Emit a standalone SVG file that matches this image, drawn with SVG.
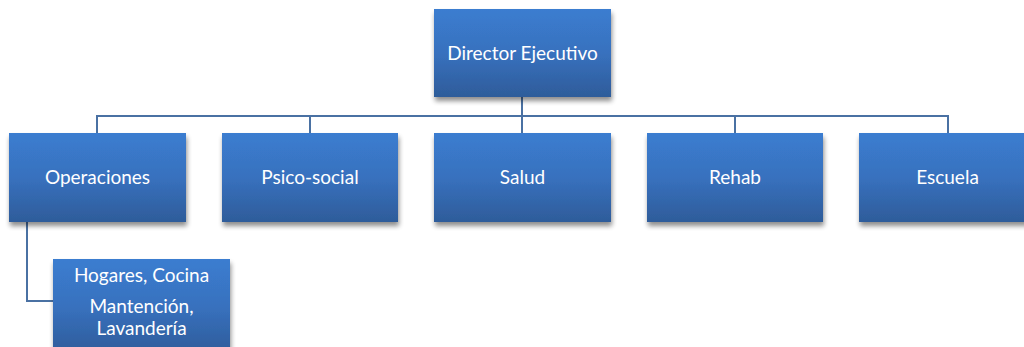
<svg xmlns="http://www.w3.org/2000/svg" width="1024" height="347" viewBox="0 0 1024 347">
<defs>
<linearGradient id="g" x1="0" y1="0" x2="0" y2="1">
<stop offset="0" stop-color="#3b7dd0"/>
<stop offset="0.5" stop-color="#3871be"/>
<stop offset="1" stop-color="#2e5c9a"/>
</linearGradient>
<filter id="sh" x="-10%" y="-10%" width="125%" height="130%">
<feGaussianBlur in="SourceAlpha" stdDeviation="2.5"/>
<feOffset dx="1" dy="4" result="b"/>
<feComponentTransfer><feFuncA type="linear" slope="0.45"/></feComponentTransfer>
<feMerge><feMergeNode/><feMergeNode in="SourceGraphic"/></feMerge>
</filter>
</defs>
<style>
.box{fill:url(#g);filter:url(#sh)}
.t{font-family:Lato,"Open Sans","Liberation Sans",sans-serif;font-size:19px;fill:#ffffff;text-anchor:middle}
.c{fill:none;stroke:#4a71a3;stroke-width:2}
</style>
<rect width="1024" height="347" fill="#ffffff"/>
<g id="connectors">
<path class="c" d="M522 97 V116 M97 133 V116 H948 V133 M310 116 V133 M522 116 V133 M735 116 V133"/>
<path class="c" d="M27 222 V301 H53"/>
</g>
<g id="director"><rect class="box" x="434" y="9" width="177" height="88"/><text class="t" x="522.5" y="60">Director Ejecutivo</text></g>
<g id="operaciones"><rect class="box" x="9" y="133" width="177" height="89"/><text class="t" x="97.5" y="184">Operaciones</text></g>
<g id="psicosocial"><rect class="box" x="222" y="133" width="176" height="89"/><text class="t" x="310" y="184">Psico-social</text></g>
<g id="salud"><rect class="box" x="434" y="133" width="177" height="89"/><text class="t" x="522.5" y="184">Salud</text></g>
<g id="rehab"><rect class="box" x="647" y="133" width="176" height="89"/><text class="t" x="735" y="184">Rehab</text></g>
<g id="escuela"><rect class="box" x="859" y="133" width="177" height="89"/><text class="t" x="947.5" y="184">Escuela</text></g>
<g id="hogares"><rect class="box" x="53" y="259" width="177" height="95"/>
<text class="t" x="141.5" y="282">Hogares, Cocina</text>
<text class="t" x="141.5" y="313">Mantención,</text>
<text class="t" x="141.5" y="335">Lavandería</text></g>
</svg>
